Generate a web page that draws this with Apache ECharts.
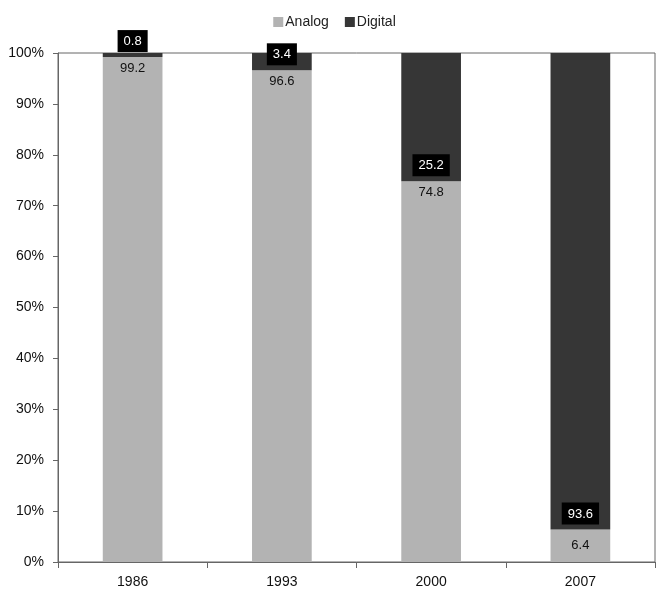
<!DOCTYPE html>
<html>
<head>
<meta charset="utf-8">
<script src="https://cdn.jsdelivr.net/npm/echarts@6/dist/echarts.min.js"></script>
<style>
html,body{margin:0;padding:0;background:#fff;}
#chart{width:669px;height:601px;}
</style>
</head>
<body>
<div id="chart"></div>
<script>
var categories = ['1986', '1993', '2000', '2007'];
var analog = [99.2, 96.6, 74.8, 6.4];
var digital = [0.8, 3.4, 25.2, 93.6];
var yTicks = [0, 10, 20, 30, 40, 50, 60, 70, 80, 90, 100];

var FONT = '"Liberation Sans", Arial, sans-serif';
var chart = echarts.init(document.getElementById('chart'));

var analogData = analog.map(function (v, i) {
  var d = { value: v };
  if (v < 10) d.label = { position: 'inside' };
  return d;
});

chart.setOption({
  animation: false,
  textStyle: { fontFamily: FONT },
  legend: {
    top: 10,
    left: 'center',
    itemWidth: 10,
    itemHeight: 10,
    itemGap: 16,
    icon: 'rect',
    textStyle: { fontSize: 14, color: '#222', fontFamily: FONT, padding: [0, 0, 0, -3] },
    data: ['Analog', 'Digital']
  },
  grid: {
    left: 58, right: 14, top: 53, bottom: 39,
    show: true, borderColor: '#666', borderWidth: 1
  },
  xAxis: {
    type: 'category',
    data: categories,
    axisLine: { lineStyle: { color: '#666' } },
    axisTick: { show: true, length: 6, lineStyle: { color: '#666' } },
    axisLabel: { color: '#111', fontSize: 14, margin: 13, fontFamily: FONT }
  },
  yAxis: {
    type: 'value',
    min: yTicks[0],
    max: yTicks[yTicks.length - 1],
    interval: yTicks[1] - yTicks[0],
    axisLine: { show: true, lineStyle: { color: '#666' } },
    axisTick: { show: true, length: 5, lineStyle: { color: '#666' } },
    splitLine: { show: false },
    axisLabel: { color: '#111', fontSize: 14, margin: 14, fontFamily: FONT, formatter: '{value}%' }
  },
  series: [
    {
      name: 'Analog',
      type: 'bar',
      stack: 'total',
      barWidth: '40%',
      itemStyle: { color: '#b3b3b3' },
      label: {
        show: true,
        position: 'insideTop',
        distance: 5,
        color: '#111',
        fontSize: 13,
        fontFamily: FONT
      },
      data: analogData
    },
    {
      name: 'Digital',
      type: 'bar',
      stack: 'total',
      barWidth: '40%',
      itemStyle: { color: '#363636' },
      label: {
        show: true,
        position: 'insideBottom',
        distance: 5,
        color: '#fff',
        fontSize: 13,
        fontFamily: FONT,
        backgroundColor: '#000',
        padding: [5, 6, 4, 6]
      },
      data: digital
    }
  ]
});
</script>
</body>
</html>
